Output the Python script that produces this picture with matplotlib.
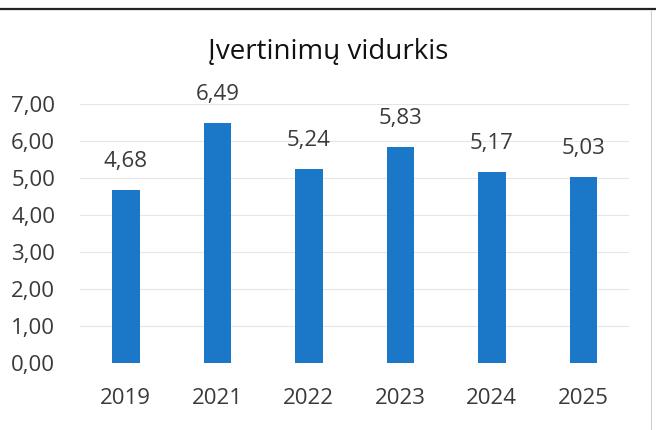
import matplotlib.pyplot as plt
from matplotlib.lines import Line2D

years = ['2019', '2021', '2022', '2023', '2024', '2025']
values = [4.68, 6.49, 5.24, 5.83, 5.17, 5.03]
yticks = [0, 1, 2, 3, 4, 5, 6, 7]

plt.rcParams['font.family'] = ['Open Sans', 'DejaVu Sans']
txt = '#3a3a3a'

fig = plt.figure(figsize=(6.56, 4.30), dpi=100)
ax = fig.add_axes([0.122, 0.156, 0.837, 0.602])

x = range(len(years))
ax.bar(x, values, width=0.3, color='#1b78c8', zorder=3)

for i, v in zip(x, values):
    ax.annotate(f'{v:.2f}'.replace('.', ','), (i, v), xytext=(0, 13),
                textcoords='offset points', ha='center', va='bottom',
                fontsize=16, color=txt)

ax.set_xlim(-0.5, len(years) - 0.5)
ax.set_ylim(0, 7)
ax.set_yticks(yticks)
ax.set_yticklabels([f'{t:.2f}'.replace('.', ',') for t in yticks])
ax.set_xticks(list(x))
ax.set_xticklabels(years)
ax.tick_params(axis='both', length=0, labelsize=16, labelcolor=txt)
ax.tick_params(axis='x', pad=18)
ax.tick_params(axis='y', pad=18)
ax.grid(axis='y', color='#e6e6e6', linewidth=0.8, zorder=0)
for s in ax.spines.values():
    s.set_visible(False)

fig.text(0.5, 0.879, 'Įvertinimų vidurkis', ha='center', va='center',
         fontsize=20, color='#111111')

# scan border lines
fig.add_artist(Line2D([0, 1], [0.979, 0.979], transform=fig.transFigure,
                      color='#222222', linewidth=1.6))
fig.add_artist(Line2D([0.992, 0.992], [0.0, 0.975], transform=fig.transFigure,
                      color='#d0d0d0', linewidth=0.8))

fig.savefig('out.png', dpi=100)
